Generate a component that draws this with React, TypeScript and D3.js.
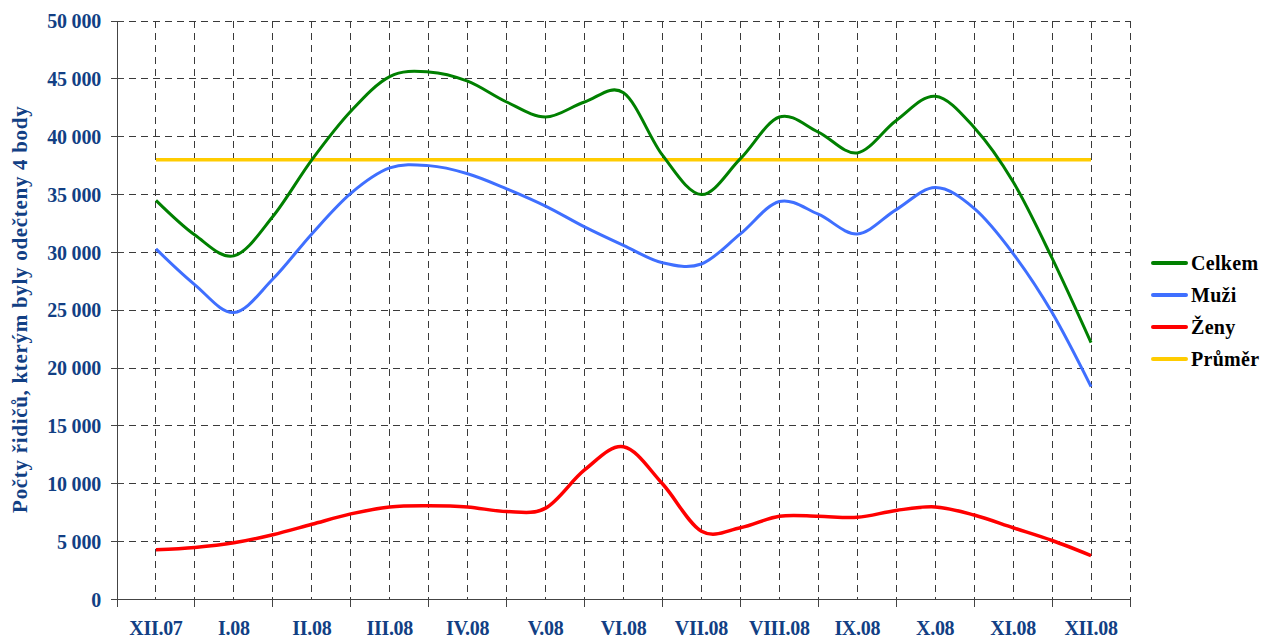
import { useEffect, useRef } from 'react';
import * as d3 from 'd3';

// half-month samples, XII.07 .. XII.08 (25 points)
const monthLabels = ['XII.07', 'I.08', 'II.08', 'III.08', 'IV.08', 'V.08', 'VI.08',
  'VII.08', 'VIII.08', 'IX.08', 'X.08', 'XI.08', 'XII.08'];

const celkem = [34500, 31500, 29700, 33100, 38000, 42200, 45200, 45600, 44800, 43000, 41700, 43000, 43800,
  38400, 35000, 38100, 41700, 40400, 38600, 41400, 43500, 40800, 36100, 29500, 22200];
const muzi = [30300, 27200, 24800, 27700, 31600, 35100, 37300, 37500, 36800, 35500, 34000, 32200, 30600,
  29100, 29000, 31600, 34400, 33300, 31600, 33700, 35600, 33800, 29900, 24800, 18400];
const zeny = [4300, 4500, 4900, 5600, 6500, 7400, 8000, 8100, 8000, 7600, 7900, 11200, 13200,
  10000, 5900, 6200, 7200, 7200, 7100, 7700, 8000, 7300, 6200, 5100, 3800];
const prumer = 38000;

const yTicks = [0, 5000, 10000, 15000, 20000, 25000, 30000, 35000, 40000, 45000, 50000];

const series = [
  { name: 'Celkem', values: celkem, color: '#008000', width: 3 },
  { name: 'Muži', values: muzi, color: '#3f6fff', width: 3 },
  { name: 'Ženy', values: zeny, color: '#ff0000', width: 3.5 },
];

export default function App() {
  const ref = useRef<SVGSVGElement | null>(null);

  useEffect(() => {
    if (!ref.current) return;
    const svg = d3.select(ref.current);
    svg.selectAll('*').remove();

    const left = 117, right = 1130, top = 21, bottom = 599.5;
    const n = celkem.length;
    const x = d3.scaleLinear().domain([-1, n]).range([left, right]);
    const y = d3.scaleLinear().domain([0, 50000]).range([bottom, top]);
    const labelColor = '#123f84';
    const font = '"Liberation Serif", "Times New Roman", serif';

    // grid
    const grid = svg.append('g').attr('stroke', '#3a3a3a').attr('stroke-width', 1)
      .attr('stroke-dasharray', '7,5').attr('shape-rendering', 'crispEdges');
    yTicks.filter(t => t > 0).forEach(t => {
      grid.append('line').attr('x1', left).attr('x2', right).attr('y1', y(t)).attr('y2', y(t));
    });
    d3.range(0, n + 1).forEach(i => {
      grid.append('line').attr('x1', x(i)).attr('x2', x(i)).attr('y1', top).attr('y2', bottom);
    });

    // axes
    const ax = svg.append('g').attr('stroke', '#444').attr('stroke-width', 1).attr('shape-rendering', 'crispEdges');
    ax.append('line').attr('x1', left).attr('x2', left).attr('y1', top).attr('y2', bottom);
    ax.append('line').attr('x1', left - 6).attr('x2', right).attr('y1', bottom).attr('y2', bottom);
    yTicks.forEach(t => {
      ax.append('line').attr('x1', left - 6).attr('x2', left + 7).attr('y1', y(t)).attr('y2', y(t));
    });
    d3.range(-1, n + 1, 2).forEach(i => {
      ax.append('line').attr('x1', x(i)).attr('x2', x(i)).attr('y1', bottom).attr('y2', bottom + 7);
    });

    // y tick labels
    svg.append('g').selectAll('text').data(yTicks).join('text')
      .attr('x', 101).attr('y', d => y(d)).attr('dy', '0.36em')
      .attr('text-anchor', 'end').attr('fill', labelColor)
      .style('font', `bold 20px ${font}`).style('letter-spacing', '-0.2px')
      .text(d => d === 0 ? '0' : d3.format(',')(d).replace(',', ' '));

    // x labels
    svg.append('g').selectAll('text').data(monthLabels).join('text')
      .attr('x', (_, i) => x(i * 2)).attr('y', 635)
      .attr('text-anchor', 'middle').attr('fill', labelColor)
      .style('font', `bold 20px ${font}`).style('letter-spacing', '-0.3px')
      .text(d => d);

    // y title
    svg.append('text')
      .attr('transform', `translate(27,${(top + bottom) / 2 - 1}) rotate(-90)`)
      .attr('text-anchor', 'middle').attr('fill', labelColor)
      .style('font', `bold 21px ${font}`).style('letter-spacing', '0.7px')
      .text('Počty řidičů, kterým byly odečteny 4 body');

    // average
    svg.append('line')
      .attr('x1', x(0)).attr('x2', x(n - 1)).attr('y1', y(prumer)).attr('y2', y(prumer))
      .attr('stroke', '#ffcc00').attr('stroke-width', 3.5);

    // series lines
    const line = d3.line<number>()
      .x((_, i) => x(i))
      .y(d => y(d))
      .curve(d3.curveCatmullRom.alpha(0));

    series.forEach(s => {
      svg.append('path')
        .datum(s.values)
        .attr('fill', 'none')
        .attr('stroke', s.color)
        .attr('stroke-width', s.width)
        .attr('stroke-linejoin', 'round')
        .attr('d', line);
    });

    // legend
    const legendItems = [
      ...series.map(s => ({ name: s.name, color: s.color })),
      { name: 'Průměr', color: '#ffcc00' },
    ];
    const legend = svg.append('g');
    legendItems.forEach((item, i) => {
      const gy = 263 + i * 32;
      legend.append('line').attr('x1', 1153).attr('x2', 1186).attr('y1', gy).attr('y2', gy)
        .attr('stroke', item.color).attr('stroke-width', 4).attr('stroke-linecap', 'round');
      legend.append('text').attr('x', 1191).attr('y', gy).attr('dy', '0.35em')
        .attr('fill', '#000').style('font', `bold 20px ${font}`).style('letter-spacing', '0.3px')
        .text(item.name);
    });
  }, []);

  return (
    <svg
      ref={ref}
      width={1263}
      height={641}
      style={{ position: 'absolute', left: 0, top: 0, background: '#fff' }}
    />
  );
}
